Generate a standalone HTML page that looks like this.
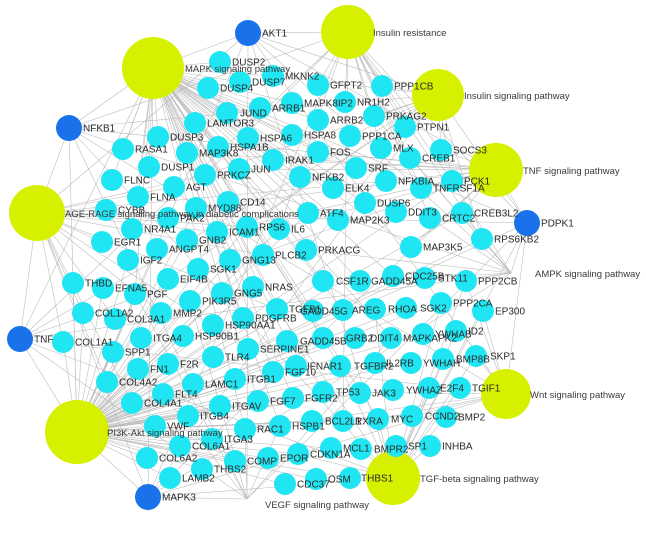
<!DOCTYPE html>
<html><head><meta charset="utf-8">
<style>
html,body{margin:0;padding:0;background:#fff;}
svg{display:block;}
text{font-family:"Liberation Sans",Arial,sans-serif;}
</style></head>
<body>
<svg id="net" width="646" height="533" viewBox="0 0 646 533" xmlns="http://www.w3.org/2000/svg">
<g id="edges"></g>
<g id="nodes"></g>
<g id="labels"></g>
</svg>
<script>
// Pathway hubs
const hubKeys = ["M","I","S","T","A","P","W","G","K","V"];
const hubNames = ["MAPK signaling pathway","Insulin resistance","Insulin signaling pathway","TNF signaling pathway","AGE-RAGE signaling pathway in diabetic complications","PI3K-Akt signaling pathway","Wnt signaling pathway","TGF-beta signaling pathway","AMPK signaling pathway","VEGF signaling pathway"];
const hubX = [153,348,438,496,37,77,506,393,511,247];
const hubY = [68,32,95,170,213,432,394,478,273,499];
const hubR = [31,27,26,27,28,32,25,27,0,0];
const hubLabelX = [185,373,464,523,65,107,530,420,535,265];
const hubLabelY = [69,33,96,171,214,433,395,479,274,505];

// Hub genes (blue)
const hubGenes = ["AKT1","NFKB1","TNF","MAPK3","PDPK1"];
const hubGeneX = [248,69,20,148,527];
const hubGeneY = [33,128,339,497,223];

// Genes: name, x, y, label x (0 = default), pathways
const genes = [
["DUSP2",220,62,0,"M"],["DUSP7",240,82,0,"M"],["DUSP4",208,88,0,"M"],["MKNK2",273,76,0,"MS"],
["MAPK8IP2",292,103,0,"M"],["ARRB1",260,108,0,"M"],["GFPT2",318,85,0,"I"],["PPP1CB",382,86,0,"SI"],
["NR1H2",345,102,0,"I"],["PRKAG2",374,116,0,"SIK"],["ARRB2",318,120,0,"M"],["LAMTOR3",195,123,0,"M"],
["JUND",227,113,240,"M"],["HSPA6",248,138,0,"M"],["HSPA8",292,135,0,"M"],["PTPN1",405,127,0,"SI"],
["PPP1CA",350,136,0,"S"],["DUSP3",158,137,0,"M"],["HSPA1B",218,147,0,"M"],["RASA1",123,149,0,"M"],
["MAP3K8",187,153,0,"MT"],["MLX",381,148,0,"I"],["FOS",318,152,0,"MT"],["SOCS3",441,150,0,"STI"],
["IRAK1",273,160,0,"MT"],["CREB1",410,158,0,"TKI"],["DUSP1",149,167,0,"M"],["JUN",239,169,0,"MT"],
["SRF",356,168,0,"M"],["PRKCZ",205,175,0,"ASI"],["NFKB2",300,177,0,"M"],["FLNC",112,180,0,"M"],
["NFKBIA",386,181,0,"TA"],["PCK1",452,181,0,"SIKTP"],["AGT",174,187,0,"A"],["ELK4",333,188,0,"M"],
["TNFRSF1A",421,188,0,"TMI"],["FLNA",138,197,0,"M"],["CD14",228,202,0,"M"],["DUSP6",365,203,0,"M"],
["MYD88",196,208,0,"TP"],["CYBB",106,210,0,"A"],["ATF4",308,213,0,"MP"],["DDIT3",396,212,0,"M"],
["CREB3L2",462,213,0,"PTK"],["CRTC2",430,218,0,"KI"],["PAK2",168,218,180,"A"],["MAP2K3",338,220,0,"M"],
["NR4A1",132,229,0,"M"],["RPS6",247,227,0,"PS"],["IL6",279,229,0,"APTI"],["ICAM1",217,232,0,"AT"],
["RPS6KB2",482,239,0,"SPI"],["GNB2",187,240,0,"P"],["EGR1",102,242,0,"A"],["MAP3K5",411,247,0,"MT"],
["ANGPT4",157,249,0,"P"],["PRKACG",306,250,0,"MSK"],["PLCB2",263,255,0,"A"],["IGF2",128,260,0,"P"],
["GNG13",230,260,0,"P"],["SGK1",198,269,0,"P"],["THBD",73,283,0,"P"],["EIF4B",168,279,0,"PS"],
["EFNA5",103,288,0,"P"],["NRAS",253,287,0,"MP"],["GNG5",222,293,0,"P"],["PGF",135,294,0,"PMV"],
["PIK3R5",190,301,0,"PV"],["COL1A2",83,313,0,"AP"],["MMP2",161,313,0,"A"],["HSP90AA1",213,325,0,"P"],
["PDGFRB",243,318,0,"MP"],["TGFB1",277,309,0,"AMG"],["COL3A1",115,319,0,"A"],["CSF1R",323,281,336,"MP"],
["GADD45A",360,281,371,"M"],["CDC25B",393,276,405,"M"],["STK11",425,278,438,"KP"],["PPP2CB",466,281,478,"WGK"],
["COL1A1",63,342,0,"AP"],["SPP1",113,352,0,"P"],["ITGA4",141,338,0,"P"],["HSP90B1",183,336,0,"P"],
["TLR4",213,357,0,"P"],["SERPINE1",248,349,0,"A"],["GADD45B",287,341,300,"M"],["GADD45G",313,311,300,"M"],
["AREG",343,310,352,"M"],["RHOA",375,309,388,"G"],["SGK2",406,308,420,"P"],["PPP2CA",441,303,453,"PWG"],
["EP300",483,311,495,"GW"],["GRB2",323,338,346,"MP"],["DDIT4",355,338,370,"P"],["MAPKAPK2",391,338,403,"MV"],
["YWHAB",423,334,435,"P"],["ID2",456,331,468,"G"],["FN1",138,369,0,"P"],["F2R",168,364,0,"P"],
["IFNAR1",296,366,307,"P"],["TGFBR2",340,366,354,"MG"],["IL2RB",375,363,386,"P"],["YWHAH",411,363,423,"P"],
["BMP8B",443,359,456,"G"],["SKP1",476,356,490,"WG"],["COL4A2",107,382,0,"AP"],["LAMC1",193,384,0,"P"],
["ITGB1",235,379,0,"P"],["FGF10",273,372,0,"MP"],["COL4A1",132,403,0,"AP"],["FLT4",163,394,0,"PV"],
["ITGAV",220,406,0,"P"],["FGF7",258,401,0,"MP"],["FGFR2",293,398,305,"MP"],["TP53",323,392,336,"MPW"],
["JAK3",360,393,372,"P"],["YWHAZ",393,390,406,"P"],["E2F4",429,388,440,"G"],["TGIF1",460,388,472,"G"],
["ITGB4",188,416,0,"P"],["VWF",155,426,0,"P"],["RAC1",245,429,0,"MPVW"],["HSPB1",280,426,0,"MV"],
["BCL2L1",312,421,325,"P"],["RXRA",343,421,355,"I"],["MYC",378,419,391,"MPWG"],["CCND2",412,416,425,"PW"],
["BMP2",446,417,458,"G"],["ITGA3",212,439,0,"P"],["COL6A1",180,446,0,"P"],["COL6A2",147,458,0,"P"],
["COMP",235,461,0,"P"],["EPOR",268,458,0,"P"],["CDKN1A",298,454,310,"PG"],["MCL1",331,448,343,"P"],
["BMPR2",361,449,374,"G"],["SP1",396,446,408,"G"],["INHBA",430,446,442,"G"],["THBS2",202,469,0,"P"],
["LAMB2",170,478,0,"P"],["CDC37",285,484,0,"P"],["OSM",316,479,328,"P"],["THBS1",350,478,361,"PG"]
];

const NS = "http://www.w3.org/2000/svg";
const gE = document.getElementById('edges');
const gN = document.getElementById('nodes');
const gL = document.getElementById('labels');
function mk(tag, attrs){const e=document.createElementNS(NS,tag);for(const k in attrs)e.setAttribute(k,attrs[k]);return e;}
function hubIndex(k){return hubKeys.indexOf(k);}

// edges: genes -> pathways
genes.forEach(g=>{
  for(const c of g[4]){
    const h=hubIndex(c);
    const l=mk('line',{x1:g[1],y1:g[2],x2:hubX[h],y2:hubY[h],stroke:'#b9b9b9','stroke-width':0.55});
    
    
    gE.appendChild(l);
  }
});
// edges: hub genes -> all pathways
hubGenes.forEach((n,i)=>{
  hubX.forEach((hx,h)=>{
    const l=mk('line',{x1:hubGeneX[i],y1:hubGeneY[i],x2:hx,y2:hubY[h],stroke:'#b9b9b9','stroke-width':0.55});
    
    
    gE.appendChild(l);
  });
});

// pathway nodes
hubNames.forEach((n,i)=>{
  if(hubR[i]>0){
    const c=mk('circle',{cx:hubX[i],cy:hubY[i],r:hubR[i],fill:'#d6f000'});
    
    
    gN.appendChild(c);
  }
});
// gene nodes
genes.forEach(g=>{
  const c=mk('circle',{cx:g[1],cy:g[2],r:11,fill:'#1fe6f2'});
  
  
  gN.appendChild(c);
});
hubGenes.forEach((n,i)=>{
  const c=mk('circle',{cx:hubGeneX[i],cy:hubGeneY[i],r:13,fill:'#1a72ea'});
  
  
  gN.appendChild(c);
});

// labels
genes.forEach(g=>{
  const t=mk('text',{x:g[3]||g[1]+12,y:g[2]+3.5,'font-size':10,fill:'#2a2a2a'});
  t.textContent=g[0];
  
  
  gL.appendChild(t);
});
hubGenes.forEach((n,i)=>{
  const t=mk('text',{x:hubGeneX[i]+14,y:hubGeneY[i]+3.5,'font-size':10,fill:'#2a2a2a'});
  t.textContent=n;
  
  
  gL.appendChild(t);
});
hubNames.forEach((n,i)=>{
  const t=mk('text',{x:hubLabelX[i],y:hubLabelY[i]+3,'font-size':9.5,fill:'#3a3a3a'});
  t.textContent=n;
  
  
  gL.appendChild(t);
});
</script>
</body></html>
